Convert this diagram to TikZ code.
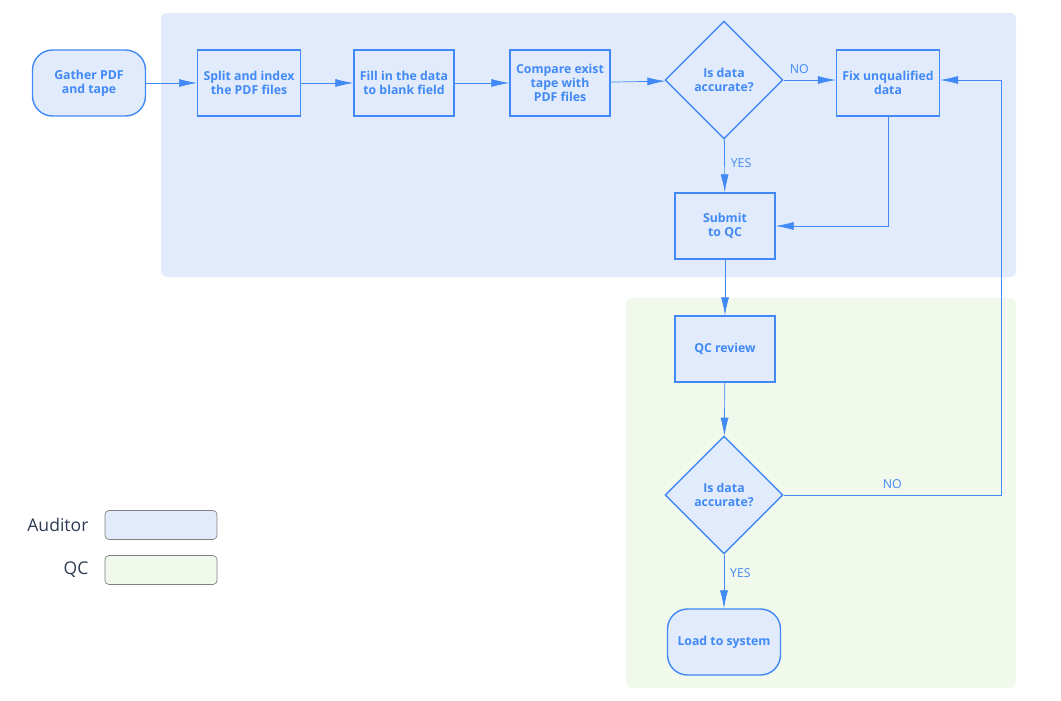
\documentclass[tikz,border=0pt]{standalone}
\usepackage{fontspec}
\setmainfont{Open Sans}
\usetikzlibrary{positioning,shapes.geometric,arrows.meta}
\definecolor{FBlue}{HTML}{4189F5}
\definecolor{AudFill}{HTML}{E1EBFC}
\definecolor{QCFill}{HTML}{F1F8EC}
\definecolor{LegText}{HTML}{2F3B55}

\begin{document}
\begin{tikzpicture}[x=0.02cm, y=-0.02cm,
    task/.style={rectangle, draw=FBlue, thick, fill=AudFill, minimum width=2cm, minimum height=1.32cm, align=center, text=FBlue, font=\scriptsize\bfseries},
    term/.style={task, rounded corners=0.4cm, minimum width=2.26cm},
    check/.style={diamond, draw=FBlue, thick, fill=AudFill, minimum width=2.36cm, minimum height=2.36cm, inner sep=0pt, align=center, text=FBlue, font=\scriptsize\bfseries},
    arrow/.style={-{Latex[length=0.36cm,width=0.16cm]}, FBlue},
    lbl/.style={text=FBlue, font=\scriptsize},
    lane/.style={rounded corners=0.12cm}
]
    \useasboundingbox (0,0) rectangle (1061,700);
    % Lanes
    \fill[lane, AudFill] (161,13) rectangle (1016,277);
    \fill[lane, QCFill] (626,298) rectangle (1016,688);

    % Steps
    \node[term] (gather) at (89,83) {Gather PDF\\and tape};
    \node[task] (split) at (249,83) {Split and index\\the PDF files};
    \node[task] (fill) at (404,83) {Fill in the data\\to blank field};
    \node[task] (compare) at (560,83) {Compare exist\\tape with\\PDF files};
    \node[check] (check1) at (724,80) {Is data\\accurate?};
    \node[task] (fix) at (888,83) {Fix unqualified\\data};
    \node[task] (submit) at (725,226) {Submit\\to QC};
    \node[task] (review) at (725,349) {QC review};
    \node[check] (check2) at (724,495) {Is data\\accurate?};
    \node[term] (load) at (724,642) {Load to system};

    % Legend
    \node[rectangle, rounded corners=0.08cm, draw=gray, fill=AudFill, minimum width=2.24cm, minimum height=0.58cm] (legaud) at (161,525) {};
    \node[rectangle, rounded corners=0.08cm, draw=gray, fill=QCFill, minimum width=2.24cm, minimum height=0.58cm] (legqc) at (161,570) {};
    \node[left=0.2cm of legaud, text=LegText] {Auditor};
    \node[left=0.2cm of legqc, text=LegText] {QC};

    % Arrows
    \draw[arrow] (gather) -- (split);
    \draw[arrow] (split) -- (fill);
    \draw[arrow] (fill) -- (compare);
    \draw[arrow] (compare) -- (check1);
    \draw[arrow] (check1) -- node[lbl, above, pos=0.3] {NO} (fix.west |- check1);
    \draw[arrow] (check1) -- node[lbl, right, pos=0.45] {YES} (submit);
    \draw[arrow] (fix.south) |- (submit.east);
    \draw[arrow] (submit) -- (review);
    \draw[arrow] (review) -- (check2);
    \draw[arrow] (check2) -- node[lbl, right, pos=0.35] {YES} (load);
    \coordinate (loop) at (1001,495);
    \draw[arrow] (check2.east) -- node[lbl, above] {NO} (loop) |- (fix.east |- check1);
\end{tikzpicture}
\end{document}
